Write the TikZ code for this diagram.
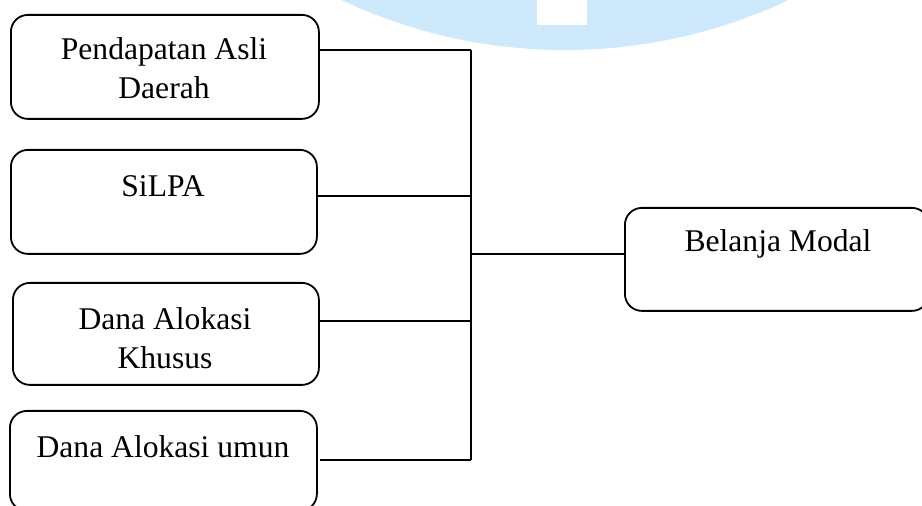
\documentclass[tikz,border=0pt]{standalone}
\usepackage{fontspec}
\setmainfont{Liberation Serif}
\definecolor{wm}{RGB}{205,233,251}
\begin{document}
\begin{tikzpicture}[x=0.5pt,y=-0.5pt,
  box/.style={draw,line width=0.9pt,rounded corners=8.5pt,inner sep=0pt},
  lbl/.style={font=\fontsize{15.8}{19.5}\selectfont,align=center,inner sep=0pt},
  conn/.style={line width=0.9pt}]
\useasboundingbox (0,0) rectangle (922,506);
\clip (0,0) rectangle (922,506);
% watermark
\fill[wm] (565,-473) circle (523);
\fill[white] (537,-2) rectangle (587,25);
% boxes
\node[box,minimum width=154pt,minimum height=52pt,anchor=north west] (b1) at (10,14) {};
\node[box,minimum width=153pt,minimum height=52pt,anchor=north west] (b2) at (10,149) {};
\node[box,minimum width=153pt,minimum height=51pt,anchor=north west] (b3) at (12,282) {};
\node[box,minimum width=153.5pt,minimum height=50pt,anchor=north west] (b4) at (9,410) {};
\node[box,minimum width=152pt,minimum height=51.5pt,anchor=north west] (b5) at (624,207) {};
% labels
\node[lbl] (t1) at (164,68) {Pendapatan Asli\\Daerah};
\node[lbl] (t2) at (163,186) {SiLPA};
\node[lbl] (t3) at (165,338) {Dana Alokasi\\Khusus};
\node[lbl] (t4) at (163,447) {Dana Alokasi umun};
\node[lbl] (t5) at (778,244) {Belanja Modal};
% junction coordinates
\coordinate (j1) at (471,50);
\coordinate (j2) at (471,196);
\coordinate (j3) at (471,321);
\coordinate (j4) at (471,460);
\coordinate (j5) at (471,254);
\coordinate (s4) at (320,460);
% connectors
\draw[conn] (b1.east |- j1) -- (j1);
\draw[conn] (b2.east |- j2) -- (j2);
\draw[conn] (b3.east |- j3) -- (j3);
\draw[conn] (s4) -- (j4);
\draw[conn] (j1) -- (j4);
\draw[conn] (j5) -- (b5.west |- j5);
\end{tikzpicture}
\end{document}
